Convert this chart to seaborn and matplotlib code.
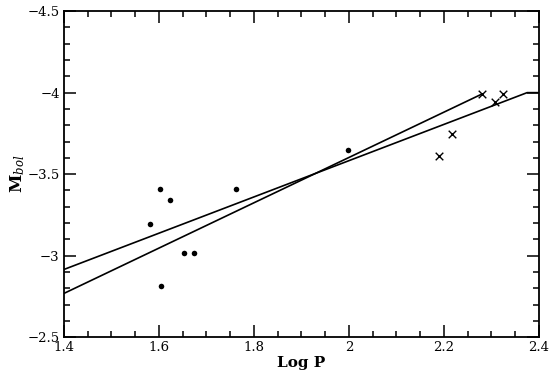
import numpy as np
import pandas as pd
import matplotlib
matplotlib.use("Agg")
import matplotlib.pyplot as plt
import seaborn as sns

# Data
dots_logp = [1.603, 1.623, 1.763, 1.582, 1.653, 1.673, 1.604, 1.999]
dots_mbol = [-3.41, -3.34, -3.41, -3.195, -3.015, -3.015, -2.815, -3.647]

cross_logp = [2.281, 2.324, 2.307, 2.216, 2.189]
cross_mbol = [-3.993, -3.993, -3.94, -3.747, -3.61]

fit1_logp = [1.4, 2.281]
fit1_mbol = [-2.768, -3.993]
fit2_logp = [1.4, 2.375, 2.398]
fit2_mbol = [-2.915, -4.0, -4.0]

xticks = [1.4, 1.6, 1.8, 2.0, 2.2, 2.4]
xtick_labels = ["1.4", "1.6", "1.8", "2", "2.2", "2.4"]
yticks = [-4.5, -4.0, -3.5, -3.0, -2.5]
ytick_labels = ["\u22124.5", "\u22124", "\u22123.5", "\u22123", "\u22122.5"]

sns.set_style("ticks", {"axes.edgecolor": "black", "text.color": "black",
                        "xtick.color": "black", "ytick.color": "black",
                        "axes.labelcolor": "black"})
plt.rcParams["font.family"] = ["DejaVu Serif"]
plt.rcParams["mathtext.fontset"] = "dejavuserif"

fig = plt.figure(figsize=(5.6, 3.84), dpi=100)
ax = fig.add_axes([0.114, 0.122, 0.8485, 0.849])

sns.lineplot(x=fit1_logp, y=fit1_mbol, sort=False, estimator=None,
             color="black", linewidth=1.2, ax=ax)
sns.lineplot(x=fit2_logp, y=fit2_mbol, sort=False, estimator=None,
             color="black", linewidth=1.2, ax=ax)
sns.scatterplot(x=dots_logp, y=dots_mbol, color="black", marker="o",
                s=16, edgecolor="black", linewidth=0, ax=ax)
sns.scatterplot(x=cross_logp, y=cross_mbol, color="black", marker="x",
                s=30, linewidth=1.0, ax=ax)

ax.set_xlim(1.4, 2.4)
ax.set_ylim(-2.5, -4.5)
ax.set_xticks(xticks)
ax.set_xticklabels(xtick_labels)
ax.set_yticks(yticks)
ax.set_yticklabels(ytick_labels)
ax.set_xticks(np.arange(1.4, 2.401, 0.05), minor=True)
ax.set_yticks(np.arange(-4.5, -2.499, 0.1), minor=True)

ax.tick_params(which="both", direction="in", top=True, right=True,
               width=1.1, labelsize=9.5, pad=3, colors="black")
ax.tick_params(which="major", length=8.5)
ax.tick_params(which="minor", length=4.5)
ax.tick_params(axis="x", labeltop=False)
ax.tick_params(axis="y", labelright=False)
for sp in ax.spines.values():
    sp.set_linewidth(1.3)
    sp.set_color("black")
    sp.set_visible(True)

ax.set_xlabel("Log P", fontsize=11, fontweight="bold", labelpad=1, color="black")
ax.set_ylabel(r"$\mathbf{M}_{\mathit{bol}}$", fontsize=12, labelpad=0, color="black")

fig.savefig("out.png", dpi=100)
